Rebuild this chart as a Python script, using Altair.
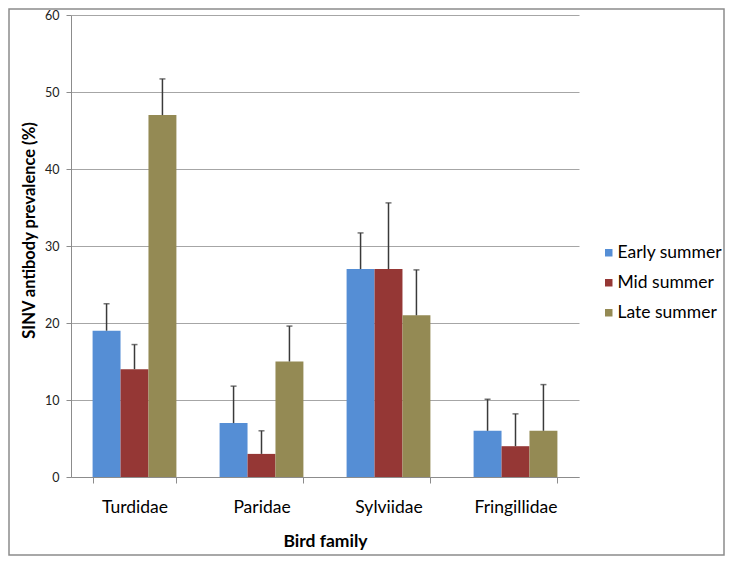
import altair as alt
import pandas as pd

families = ["Turdidae", "Paridae", "Sylviidae", "Fringillidae"]
seasons = ["Early summer", "Mid summer", "Late summer"]
colors = ["#558ed5", "#953735", "#948a54"]

early = [19, 7, 27, 6]
early_upper = [22.5, 11.8, 31.7, 10.1]
mid = [14, 3, 27, 4]
mid_upper = [17.2, 6.0, 35.6, 8.2]
late = [47, 15, 21, 6]
late_upper = [51.7, 19.6, 26.9, 12.0]

rows = []
for season, vals, ups in zip(seasons, [early, mid, late], [early_upper, mid_upper, late_upper]):
    for fam, v, u in zip(families, vals, ups):
        rows.append({"family": fam, "season": season, "value": v, "upper": u})
df = pd.DataFrame(rows)

FONT = "Lato"

x = alt.X(
    "family:N", sort=families, title="Bird family",
    scale=alt.Scale(paddingInner=0.34, paddingOuter=0.17),
    axis=alt.Axis(labelAngle=0, labelFontSize=17.5, labelColor="#000000", labelPadding=15,
                  tickBand="extent", tickSize=6, tickColor="#8c8c8c", domainColor="#8c8c8c",
                  titleFontSize=17.5, titleFontWeight="bold", titleColor="#000000", titlePadding=17,
                  grid=False, labelFont=FONT, titleFont=FONT),
)
xoff = alt.XOffset("season:N", sort=seasons, scale=alt.Scale(paddingInner=0, paddingOuter=0))
y = alt.Y(
    "value:Q", title="SINV antibody prevalence (%)",
    scale=alt.Scale(domain=[0, 60], nice=False),
    axis=alt.Axis(values=[0, 10, 20, 30, 40, 50, 60], grid=True, gridColor="#a6a6a6",
                  domainColor="#8c8c8c", tickColor="#8c8c8c", tickSize=5,
                  labelFontSize=12.5, labelColor="#222222", labelPadding=7,
                  titleFontSize=16.5, titleFontWeight="bold", titleColor="#000000",
                  titleX=-42, titleY=215, titleBaseline="middle", titleAlign="center", titleAngle=270,
                  labelFont=FONT, titleFont=FONT),
)
color = alt.Color(
    "season:N", sort=seasons,
    scale=alt.Scale(domain=seasons, range=colors),
    legend=alt.Legend(title=None, orient="none", legendX=529, legendY=229,
                      symbolType="square", symbolSize=56, symbolStrokeWidth=0,
                      labelFontSize=17.5, labelFont=FONT, labelColor="#000000",
                      rowPadding=11, labelOffset=0, padding=0),
)

base = alt.Chart(df)
bars = base.mark_bar().encode(x=x, xOffset=xoff, y=y, color=color)
rules = base.mark_rule(color="#3a3a3a", strokeWidth=1.5).encode(
    x=alt.X("family:N", sort=families), xOffset=alt.XOffset("season:N", sort=seasons),
    y="value:Q", y2="upper:Q")
caps = base.mark_tick(color="#3a3a3a", thickness=1.5, size=6).encode(
    x=alt.X("family:N", sort=families), xOffset=alt.XOffset("season:N", sort=seasons),
    y="upper:Q")

frame = alt.Chart(pd.DataFrame({"a": [0]})).mark_rect(
    fill="transparent", stroke="#8c8c8c", strokeWidth=1.5
).encode(x=alt.value(-62), x2=alt.value(653), y=alt.value(-6), y2=alt.value(540))

chart = alt.layer(bars, rules, caps, frame).properties(
    width=508, height=462,
    padding={"left": 63, "top": 7, "right": 146, "bottom": 79},
    autosize=alt.AutoSizeParams(type="none"),
).configure_view(stroke=None)

chart.save("out.html", embed_options={"renderer": "svg", "actions": False})
